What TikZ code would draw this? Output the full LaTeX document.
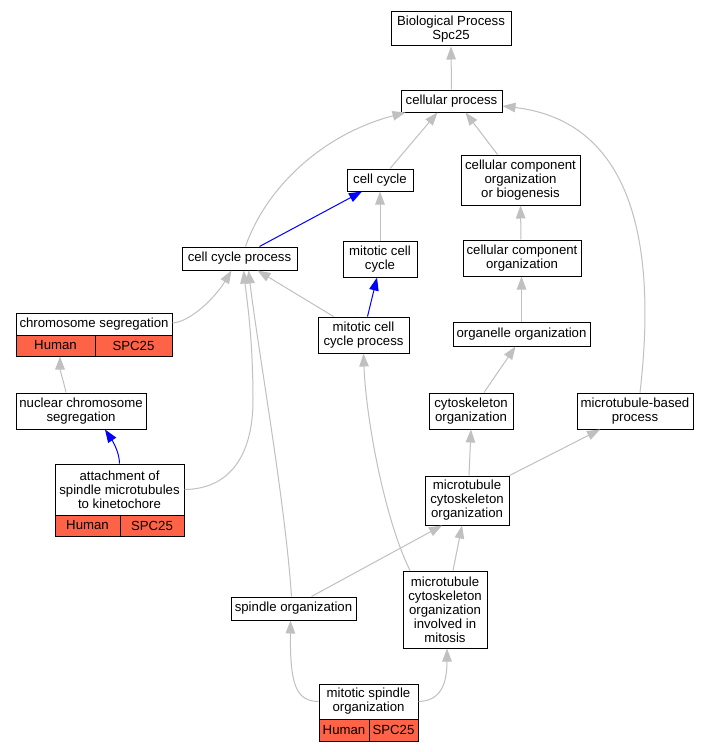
\documentclass[tikz,border=0pt]{standalone}
\usepackage{fontspec}
\setmainfont{Liberation Sans}
\usetikzlibrary{arrows.meta}
\definecolor{edgegray}{RGB}{192,192,192}
\definecolor{tomatocell}{RGB}{255,99,71}
\tikzset{
  box/.style={draw=black, line width=1pt, fill=white, inner sep=0pt, align=center,
    font=\fontsize{13.2}{14}\selectfont},
  cell/.style={box, fill=tomatocell},
  gedge/.style={draw=edgegray, line width=1pt, -{Triangle[length=13pt,width=9.5pt]}},
  bedge/.style={draw=blue, line width=1pt, -{Triangle[length=13pt,width=9.5pt]}},
}
\begin{document}
\begin{tikzpicture}[x=1pt,y=-1pt]
\useasboundingbox[fill=white] (0,0) rectangle (709,752);
% nodes
\node[box, minimum width=120, minimum height=34] (bp) at (451,29) {Biological Process\\Spc25};
\node[box, minimum width=101, minimum height=22] (cp) at (451.5,101) {cellular process};
\node[box, minimum width=66, minimum height=22] (cc) at (380,180) {cell cycle};
\node[box, minimum width=119, minimum height=50] (ccob) at (520.5,180) {cellular component\\organization\\or biogenesis};
\node[box, minimum width=115, minimum height=23] (ccp) at (239.5,258.5) {cell cycle process};
\node[box, minimum width=74, minimum height=36] (mcc) at (380,259) {mitotic cell\\cycle};
\node[box, minimum width=118, minimum height=36] (cco) at (522,258) {cellular component\\organization};
\node[box, minimum width=156, minimum height=22] (cst) at (94,324) {chromosome segregation};
\node[cell, minimum width=79, minimum height=21] (csh) at (55.5,345.5) {Human};
\node[cell, minimum width=77, minimum height=21] (css) at (133.5,345.5) {SPC25};
\node[box, minimum width=91, minimum height=36] (mccp) at (363.5,335) {mitotic cell\\cycle process};
\node[box, minimum width=137, minimum height=24] (oo) at (521.5,334) {organelle organization};
\node[box, minimum width=130, minimum height=36] (ncs) at (81,411) {nuclear chromosome\\segregation};
\node[box, minimum width=84, minimum height=36] (co) at (471,411) {cytoskeleton\\organization};
\node[box, minimum width=116, minimum height=36] (mbp) at (635,411) {microtubule-based\\process};
\node[box, minimum width=129, minimum height=51] (att) at (119.5,489.5) {attachment of\\spindle microtubules\\to kinetochore};
\node[cell, minimum width=65, minimum height=21] (atth) at (87.5,525.5) {Human};
\node[cell, minimum width=64, minimum height=21] (atts) at (152,525.5) {SPC25};
\node[box, minimum width=84, minimum height=49] (mtco) at (467,500.5) {microtubule\\cytoskeleton\\organization};
\node[box, minimum width=125, minimum height=23] (so) at (293.5,608.5) {spindle organization};
\node[box, minimum width=84, minimum height=77] (mtcoim) at (445,609.5) {microtubule\\cytoskeleton\\organization\\involved in\\mitosis};
\node[box, minimum width=99, minimum height=35] (msot) at (368.5,701.5) {mitotic spindle\\organization};
\node[cell, minimum width=50, minimum height=22] (msoh) at (344,730) {Human};
\node[cell, minimum width=49, minimum height=22] (msos) at (393.5,730) {SPC25};
% edges
\draw[gedge] (cp.north) -- (bp.south);
\draw[gedge] ([xshift=10]cc.north) -- ([xshift=-14]cp.south);
\draw[gedge] ([xshift=-23]ccob.north) -- ([xshift=14]cp.south);
\draw[gedge] ([xshift=6]ccp.north) .. controls (265,190) and (320,135) .. ([xshift=-46]cp.south);
\draw[gedge] ([xshift=5]mbp.north) .. controls (660,220) and (620,120) .. ([yshift=-5]cp.east);
\draw[bedge] ([xshift=20]ccp.north) -- ([xshift=-18]cc.south);
\draw[gedge] (mcc.north) -- (cc.south);
\draw[bedge] ([xshift=4]mccp.north) -- ([xshift=-3]mcc.south);
\draw[gedge] ([xshift=-30]mccp.north) -- ([xshift=18]ccp.south);
\draw[gedge] ([xshift=-1]cco.north) -- (ccob.south);
\draw[gedge] (oo.north) -- ([xshift=-0.5]cco.south);
\draw[gedge] ([yshift=1]cst.east) .. controls (190,322) and (215,298) .. ([xshift=-8]ccp.south);
\draw[gedge] ([xshift=-15]ncs.north) .. controls (64,383) and (60,370) .. ([xshift=4.5]csh.south);
\draw[bedge] (att.north) .. controls (119.5,452) and (112,440) .. ([xshift=24]ncs.south);
\draw[gedge] (att.east) .. controls (230,489) and (253,455) .. (253,400) .. controls (253,340) and (247,300) .. ([xshift=4]ccp.south);
\draw[gedge] ([xshift=-2]so.north) .. controls (285,500) and (258,350) .. ([xshift=9]ccp.south);
\draw[gedge] ([xshift=-35]mtcoim.north) .. controls (385,520) and (366,420) .. (mccp.south);
\draw[gedge] ([xshift=13]co.north) -- ([xshift=-6]oo.south);
\draw[gedge] ([xshift=2]mtco.north) -- (co.south);
\draw[gedge] (mtco.north east) -- ([xshift=-35]mbp.south);
\draw[gedge] ([xshift=18]so.north) -- ([xshift=-25]mtco.south);
\draw[gedge] ([xshift=8]mtcoim.north) -- ([xshift=-5]mtco.south);
\draw[gedge] (msot.west) .. controls (296,701) and (290,685) .. ([xshift=-3]so.south);
\draw[gedge] (msot.east) .. controls (440,701) and (447,685) .. ([xshift=2]mtcoim.south);
\end{tikzpicture}
\end{document}
